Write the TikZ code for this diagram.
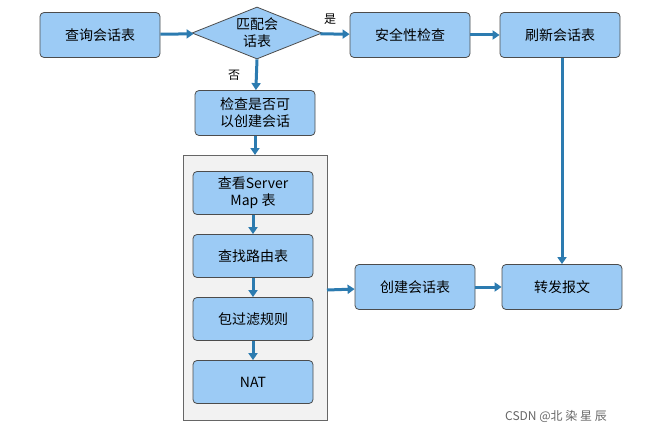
\documentclass[tikz,border=0pt]{standalone}
\usepackage{fontspec}
\setmainfont{Noto Sans CJK SC}
\usetikzlibrary{shapes.geometric,arrows.meta}
\definecolor{boxfill}{HTML}{9CCBF5}
\definecolor{arr}{HTML}{2C7BB0}
\tikzset{
 bx/.style={draw=black!70,fill=boxfill,rounded corners=4pt,minimum width=120pt,minimum height=45pt,align=center,font=\fontsize{14}{17}\selectfont,line width=0.8pt},
 ar/.style={draw=arr,line width=3pt,-{Triangle[length=7pt,width=9pt]}},
 lb/.style={font=\fontsize{12}{14}\selectfont}
}
\begin{document}
\begin{tikzpicture}[x=1pt,y=-1pt]
\useasboundingbox (0,0) rectangle (656,436);
\fill[gray!10,draw=black!60] (183,155) rectangle (327,420);
\node[bx] (q) at (100,35) {查询会话表};
\node[diamond,draw=black!70,fill=boxfill,line width=0.8pt,minimum width=130pt,minimum height=52pt,aspect=2.6,inner sep=0pt,align=center,font=\fontsize{14}{17}\selectfont] (m) at (257,33) {匹配会\\话表};
\node[bx] (s) at (410,35) {安全性检查};
\node[bx] (r) at (560,35) {刷新会话表};
\node[bx] (c) at (255,113) {检查是否可\\以创建会话};
\node[bx,minimum height=43pt] (v) at (253,193) {查看Server\\Map 表};
\node[bx,minimum height=43pt] (l) at (253,256) {查找路由表};
\node[bx,minimum height=43pt] (p) at (253,319) {包过滤规则};
\node[bx,minimum height=43pt] (n) at (253,382) {NAT};
\node[bx] (cs) at (415,287) {创建会话表};
\node[bx] (f) at (562,287) {转发报文};
\coordinate (gb) at (327,290);
\draw[ar] (q) -- (m);
\draw[ar] (m) -- (s);
\draw[ar] (s) -- (r);
\draw[ar] (m.south) -- (c);
\draw[ar] (c) -- (255,155);
\draw[ar] (v) -- (l);
\draw[ar] (l) -- (p);
\draw[ar] (p) -- (n);
\draw[ar] (gb) -- (cs);
\draw[ar] (cs) -- (f);
\draw[ar] (r.south -| f) -- (f);
\node[lb] (yes) at (330,19) {是};
\node[lb] (no) at (234,75) {否};
\node[font=\fontsize{12}{14}\selectfont,text=black!60] (wm) at (556,416) {CSDN @北 染 星 辰};
\end{tikzpicture}
\end{document}
